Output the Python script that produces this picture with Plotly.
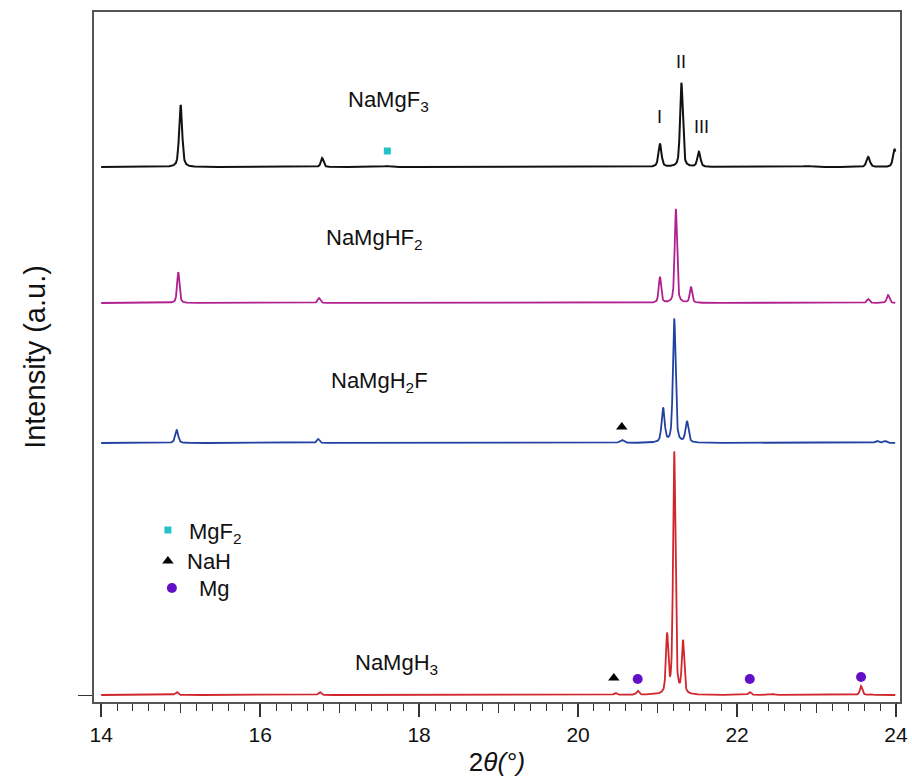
import numpy as np
import plotly.graph_objects as go

# Peak tables per pattern: position (2theta, deg), height (a.u.), FWHM (deg)
f3_pos = [15.00, 16.78, 17.60, 21.03, 21.30, 21.52, 22.88, 23.65, 23.98]
f3_hgt = [62, 9, 1, 23, 84, 15, 1, 10, 18]
f3_fwhm = [0.045, 0.04, 0.10, 0.045, 0.04, 0.045, 0.15, 0.05, 0.045]

hf2_pos = [14.97, 16.74, 21.03, 21.23, 21.42, 23.65, 23.90]
hf2_hgt = [31, 5, 26, 94, 16, 4, 8]
hf2_fwhm = [0.035, 0.04, 0.035, 0.035, 0.035, 0.04, 0.04]

h2f_pos = [14.95, 16.73, 20.55, 21.07, 21.21, 21.37, 23.76, 23.86]
h2f_hgt = [13, 4, 3, 34, 124, 21, 2, 2]
h2f_fwhm = [0.045, 0.04, 0.06, 0.045, 0.04, 0.045, 0.05, 0.05]

h3_pos = [14.95, 16.75, 20.47, 20.75, 21.12, 21.21, 21.32, 22.16, 22.45, 23.56, 23.68]
h3_hgt = [3, 3, 2, 4, 58, 242, 52, 3, 1, 9, 1]
h3_fwhm = [0.04, 0.04, 0.04, 0.04, 0.035, 0.035, 0.035, 0.04, 0.05, 0.035, 0.04]

names = ["NaMgF<sub>3</sub>", "NaMgHF<sub>2</sub>", "NaMgH<sub>2</sub>F", "NaMgH<sub>3</sub>"]
offsets = [528, 392, 252, 0]
colors = ["#111111", "#b0208f", "#2142a0", "#d1262b"]
line_widths = [2.0, 1.8, 1.8, 1.8]

# Phase markers
mgf2_x, mgf2_y = [17.60], [544]
nah_x, nah_y = [20.55, 20.45], [268, 17]
mg_x, mg_y = [20.75, 22.16, 23.56], [16, 16, 18]

two_theta = np.linspace(14.0, 23.99, 4000)


def pattern(pos, hgt, fwhm, eta=0.5):
    y = np.zeros_like(two_theta)
    for p, h, w in zip(pos, hgt, fwhm):
        d = (two_theta - p) / w
        lor = 1.0 / (1.0 + 4.0 * d ** 2)
        gau = np.exp(-4.0 * np.log(2) * d ** 2)
        y += h * (eta * lor + (1 - eta) * gau)
    return y


tables = [(f3_pos, f3_hgt, f3_fwhm), (hf2_pos, hf2_hgt, hf2_fwhm),
          (h2f_pos, h2f_hgt, h2f_fwhm), (h3_pos, h3_hgt, h3_fwhm)]

font = "Liberation Sans, Arial, sans-serif"
fig = go.Figure()

for (pos, hgt, fw), off, col, lw in zip(tables, offsets, colors, line_widths):
    fig.add_trace(go.Scatter(x=two_theta, y=pattern(pos, hgt, fw) + off, mode="lines",
                             line=dict(color=col, width=lw), showlegend=False,
                             hoverinfo="skip"))

fig.add_trace(go.Scatter(x=mgf2_x, y=mgf2_y, mode="markers", showlegend=False,
                         marker=dict(symbol="square", size=7, color="#20c4c8")))
fig.add_trace(go.Scatter(x=nah_x, y=nah_y, mode="markers", showlegend=False,
                         marker=dict(symbol="triangle-up", size=10, color="#000000")))
fig.add_trace(go.Scatter(x=mg_x, y=mg_y, mode="markers", showlegend=False,
                         marker=dict(symbol="circle", size=10, color="#6210c8")))

# Key for the phase markers
key_x = [14.84, 14.84, 14.89]
key_y = [165, 134, 107]
fig.add_trace(go.Scatter(x=key_x[:1], y=key_y[:1], mode="markers", showlegend=False,
                         marker=dict(symbol="square", size=7, color="#20c4c8")))
fig.add_trace(go.Scatter(x=key_x[1:2], y=key_y[1:2], mode="markers", showlegend=False,
                         marker=dict(symbol="triangle-up", size=10, color="#000000")))
fig.add_trace(go.Scatter(x=key_x[2:], y=key_y[2:], mode="markers", showlegend=False,
                         marker=dict(symbol="circle", size=10, color="#6210c8")))

# Invisible trace carrying the odd-integer ticks on the overlaid axis
fig.add_trace(go.Scatter(x=[14, 24], y=[0, 0], xaxis="x2", mode="markers",
                         marker=dict(opacity=0), showlegend=False, hoverinfo="skip"))

annotations = []
label_pos = [(17.62, 594), (17.44, 456), (17.50, 313), (17.72, 31)]
for n, (lx, ly) in zip(names, label_pos):
    annotations.append(dict(x=lx, y=ly, text=n, showarrow=False,
                            font=dict(size=22, color="#111111", family=font)))

for t, lx, ly in [("I", 21.02, 578), ("II", 21.30, 633), ("III", 21.55, 568)]:
    annotations.append(dict(x=lx, y=ly, text=t, showarrow=False,
                            font=dict(size=18, color="#111111", family=font)))

for t, lx, ly in [("MgF<sub>2</sub>", 15.08, 162), ("NaH", 15.06, 134), ("Mg", 15.21, 107)]:
    annotations.append(dict(x=lx, y=ly, text=t, showarrow=False, xanchor="left",
                            font=dict(size=22, color="#111111", family=font)))

fig.update_layout(
    width=912, height=778,
    margin=dict(l=94, r=12, t=12, b=76),
    plot_bgcolor="white", paper_bgcolor="white",
    font=dict(family=font, color="#111111"),
    annotations=annotations,
    xaxis=dict(range=[13.91, 24.05], dtick=2, tick0=14, ticks="outside", ticklen=13,
               tickwidth=1.5, tickcolor="#333333", showgrid=False, zeroline=False,
               showline=True, linecolor="#555555", linewidth=1.8, mirror=True,
               automargin=False,
               tickfont=dict(size=21, family=font, color="#111111"),
               minor=dict(dtick=0.2, ticks="outside", ticklen=7, tickwidth=1.3,
                          tickcolor="#333333", showgrid=False),
               title=dict(text="2<i>θ(°)</i>", font=dict(size=26, family=font),
                          standoff=8)),
    xaxis2=dict(range=[13.91, 24.05], overlaying="x", side="bottom", dtick=1, tick0=14,
                ticks="outside", ticklen=10, tickwidth=1.3, tickcolor="#333333",
                showticklabels=False, showgrid=False, zeroline=False, showline=False,
                automargin=False),
    yaxis=dict(range=[-7, 683], tickvals=[0], ticks="outside", ticklen=14,
               tickwidth=1.3, tickcolor="#333333", showticklabels=False,
               showgrid=False, zeroline=False, showline=True, linecolor="#555555",
               linewidth=1.8, mirror=True, automargin=False,
               title=dict(text="Intensity (a.u.)", font=dict(size=29, family=font),
                          standoff=24)),
)

fig.write_html("out.html")
